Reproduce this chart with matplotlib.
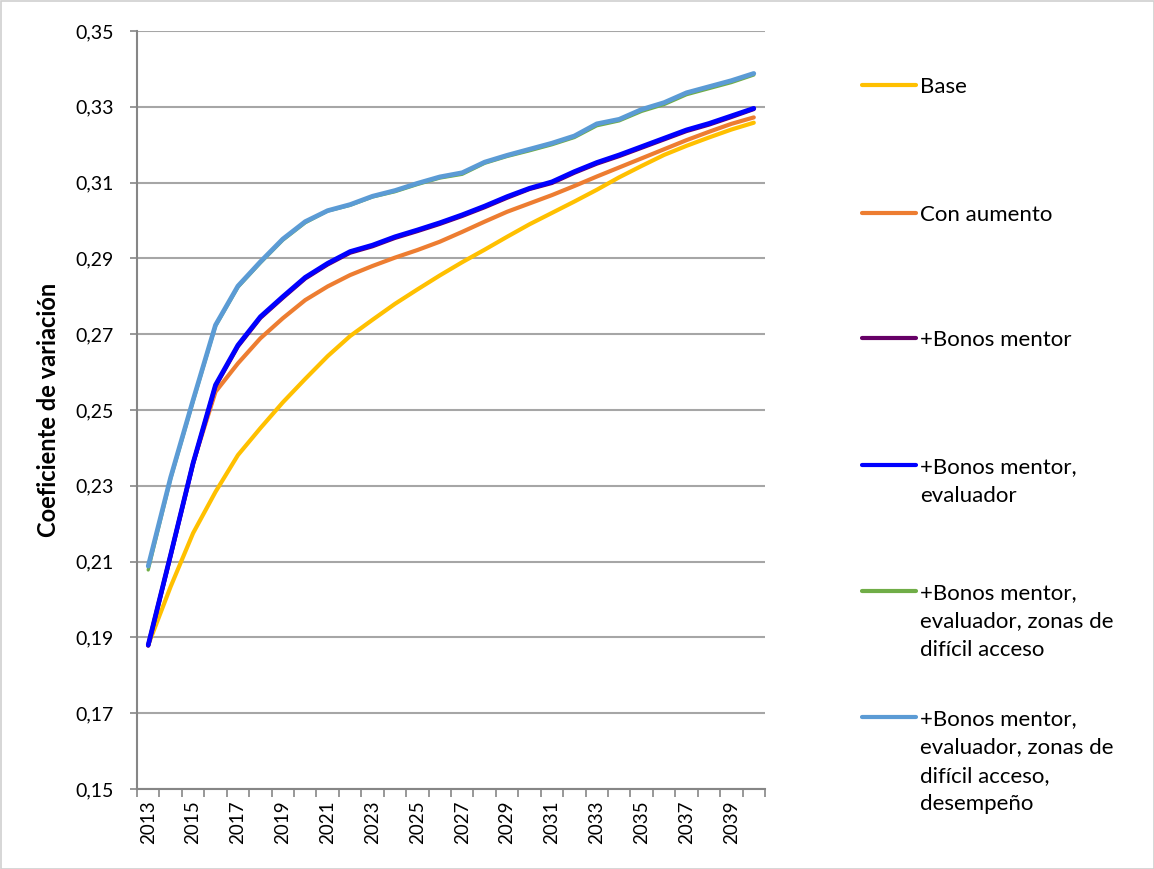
import matplotlib
matplotlib.use("Agg")
import matplotlib.pyplot as plt
from matplotlib.lines import Line2D
from matplotlib.patches import Rectangle
from matplotlib.ticker import FixedLocator, FuncFormatter

plt.rcParams['font.family'] = ['Lato', 'DejaVu Sans']

years = list(range(2013, 2041))

base = [0.1880, 0.2034, 0.2175, 0.2284, 0.2381, 0.2452, 0.2520, 0.2582, 0.2642, 0.2695,
        0.2738, 0.2780, 0.2818, 0.2855, 0.2890, 0.2923, 0.2957, 0.2990, 0.3020, 0.3050,
        0.3081, 0.3114, 0.3144, 0.3173, 0.3197, 0.3219, 0.3240, 0.3258]
con_aumento = [0.1880, 0.2118, 0.2360, 0.2548, 0.2623, 0.2689, 0.2742, 0.2790, 0.2826, 0.2856,
               0.2880, 0.2902, 0.2922, 0.2944, 0.2970, 0.2997, 0.3023, 0.3045, 0.3067, 0.3091,
               0.3116, 0.3140, 0.3164, 0.3188, 0.3212, 0.3234, 0.3255, 0.3272]
bonos_mentor = [0.1878, 0.2116, 0.2358, 0.2563, 0.2668, 0.2743, 0.2796, 0.2847, 0.2884, 0.2915,
                0.2932, 0.2954, 0.2972, 0.2991, 0.3012, 0.3035, 0.3060, 0.3083, 0.3099, 0.3126,
                0.3150, 0.3170, 0.3192, 0.3214, 0.3236, 0.3253, 0.3273, 0.3294]
bonos_evaluador = [0.1880, 0.2118, 0.2360, 0.2566, 0.2671, 0.2746, 0.2799, 0.2850, 0.2887, 0.2918,
                   0.2935, 0.2957, 0.2975, 0.2994, 0.3015, 0.3038, 0.3063, 0.3085, 0.3102, 0.3129,
                   0.3153, 0.3173, 0.3195, 0.3217, 0.3239, 0.3256, 0.3276, 0.3296]
bonos_zonas = [0.2078, 0.2318, 0.2522, 0.2721, 0.2824, 0.2888, 0.2948, 0.2994, 0.3025, 0.3040,
               0.3062, 0.3076, 0.3095, 0.3112, 0.3122, 0.3151, 0.3169, 0.3184, 0.3200, 0.3219,
               0.3250, 0.3263, 0.3288, 0.3306, 0.3332, 0.3348, 0.3364, 0.3384]
bonos_desempeno = [0.2088, 0.2322, 0.2526, 0.2724, 0.2827, 0.2891, 0.2951, 0.2997, 0.3026, 0.3042,
                   0.3064, 0.3079, 0.3098, 0.3115, 0.3126, 0.3154, 0.3172, 0.3188, 0.3204, 0.3223,
                   0.3255, 0.3267, 0.3293, 0.3311, 0.3337, 0.3353, 0.3369, 0.3388]

labels = ["Base", "Con aumento", "+Bonos mentor", "+Bonos mentor,\nevaluador",
          "+Bonos mentor,\nevaluador, zonas de\ndifícil acceso",
          "+Bonos mentor,\nevaluador, zonas de\ndifícil acceso,\ndesempeño"]
series = [base, con_aumento, bonos_mentor, bonos_evaluador, bonos_zonas, bonos_desempeno]
colors = ["#FFC000", "#ED7D31", "#660066", "#0000FF", "#70AD47", "#5B9BD5"]
widths = [3.0, 3.0, 3.0, 3.4, 2.4, 3.4]

yticks = [0.15, 0.17, 0.19, 0.21, 0.23, 0.25, 0.27, 0.29, 0.31, 0.33, 0.35]

fig = plt.figure(figsize=(11.54, 8.69), dpi=100)
ax = fig.add_axes([137/1154, 1-789/869, (765-137)/1154, (789-31)/869])

x = list(range(len(years)))
for s, c, w in zip(series, colors, widths):
    ax.plot(x, s, color=c, linewidth=w, solid_capstyle='round', solid_joinstyle='round', zorder=3)

ax.set_xlim(-0.5, len(years) - 0.5)
ax.set_ylim(0.15, 0.35)
ax.yaxis.set_major_locator(FixedLocator(yticks))
ax.yaxis.set_major_formatter(FuncFormatter(lambda v, p: f"{v:.2f}".replace('.', ',')))
ax.grid(axis='y', color='#A6A6A6', linewidth=1.5, zorder=1)

ax.set_xticks(x[::2])
ax.set_xticklabels([str(y) for y in years[::2]], rotation=90)
ax.set_xticks([i - 0.5 for i in range(len(years) + 1)], minor=True)
ax.tick_params(axis='x', which='major', length=0, pad=8, labelsize=13.5)
ax.tick_params(axis='x', which='minor', length=6, width=1.2, color='#868686')
ax.tick_params(axis='y', length=5, width=1.2, color='#868686', labelsize=14, pad=12)

for side in ['top', 'right']:
    ax.spines[side].set_visible(False)
for side in ['left', 'bottom']:
    ax.spines[side].set_color('#868686')
    ax.spines[side].set_linewidth(1.5)

ax.set_ylabel("Coeficiente de variación", fontsize=17, fontweight='bold')
ax.yaxis.set_label_coords((60 - 137) / 628, 0.5)

# legend drawn at the right
leg_y = [85, 213, 338, 465, 591, 717]
line_step = 28.5
for lab, c, yy in zip(labels, colors, leg_y):
    yf = 1 - yy/869
    fig.add_artist(Line2D([862/1154, 916/1154], [yf, yf], color=c, linewidth=3,
                          solid_capstyle='round', transform=fig.transFigure))
    for i, part in enumerate(lab.split("\n")):
        fig.text(920/1154, 1 - (yy + 8 + i * line_step)/869, part, fontsize=16,
                 va='baseline', ha='left', transform=fig.transFigure)

fig.add_artist(Rectangle((0.5/1154, 0.5/869), 1 - 1/1154, 1 - 1/869, transform=fig.transFigure,
                         fill=False, edgecolor='#D0D0D0', linewidth=1.2))

fig.savefig("out.png", dpi=100)
